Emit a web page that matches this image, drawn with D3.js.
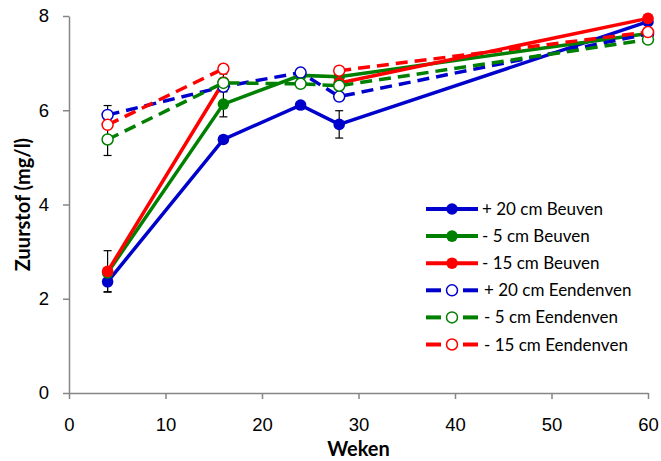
<!DOCTYPE html>
<html>
<head>
<meta charset="utf-8">
<script src="https://cdn.jsdelivr.net/npm/d3@7"></script>
<style>
    body { margin: 0; background: #fff; }
    svg { display: block; font-family: Lato, "Open Sans", sans-serif; }
    .axis path, .axis line { stroke: #868686; stroke-width: 1.5; }
    .axis text { font-size: 18.5px; fill: #000; }
    .title { font-size: 20px; font-weight: bold; }
    .legend text { font-size: 17px; }
</style>
</head>
<body>
<div id="chart"></div>
<script>

// weken (x) en zuurstof (mg/l)
var weken = [4, 16, 24, 28, 60];

var beuven20 = [2.36, 5.38, 6.11, 5.70, 7.88];
var beuven5 = [2.55, 6.13, 6.74, 6.71, 7.63];
var beuven15 = [2.58, 6.60, null, 6.58, 7.95];
var eenden20 = [5.90, 6.50, 6.80, 6.29, 7.62];
var eenden5 = [5.38, 6.58, 6.56, 6.52, 7.50];
var eenden15 = [5.69, 6.88, null, 6.84, 7.66];

// foutbalken
var errBeuven20 = [0.21, null, null, 0.29, null];
var errBeuven5 = [null, 0.27, null, null, null];
var errBeuven15 = [0.44, null, null, null, null];
var errEenden20 = [0.20, null, null, null, null];
var errEenden5 = [0.34, 0.19, null, null, null];
var errEenden15 = [null, null, null, null, null];

var seriesNames = ["+ 20 cm Beuven", "- 5 cm Beuven", "- 15 cm Beuven",
    "+ 20 cm Eendenven", "- 5 cm Eendenven", "- 15 cm Eendenven"];

var xTicks = [0, 10, 20, 30, 40, 50, 60];
var yTicks = [0, 2, 4, 6, 8];

var series = [
    {name: seriesNames[0], values: beuven20, err: errBeuven20, color: "#0000cc", open: false},
    {name: seriesNames[1], values: beuven5, err: errBeuven5, color: "#008000", open: false},
    {name: seriesNames[2], values: beuven15, err: errBeuven15, color: "#ff0000", open: false},
    {name: seriesNames[3], values: eenden20, err: errEenden20, color: "#0000cc", open: true},
    {name: seriesNames[4], values: eenden5, err: errEenden5, color: "#008000", open: true},
    {name: seriesNames[5], values: eenden15, err: errEenden15, color: "#ff0000", open: true}
];

var width = 661
    , height = 461
    , margin = {left: 69, right: 13, top: 16, bottom: 68}
    , dash = "12,7"
    ;

var svg = d3.select("#chart").append("svg")
    .attr("width", width)
    .attr("height", height);

var w = width - margin.left - margin.right
    , h = height - margin.top - margin.bottom;

var g = svg.append("g")
    .attr("transform", "translate(" + margin.left + "," + margin.top + ")");

var x = d3.scaleLinear().domain([0, 60]).range([0, w]);
var y = d3.scaleLinear().domain([0, 8]).range([h, 0]);

var xAxis = d3.axisBottom(x)
    .tickValues(xTicks)
    .tickSizeOuter(0)
    .tickSizeInner(6)
    .tickPadding(19);

var yAxis = d3.axisLeft(y)
    .tickValues(yTicks)
    .tickSizeOuter(0)
    .tickSizeInner(6)
    .tickPadding(14);

g.append("g")
    .attr("class", "axis axis--x")
    .attr("transform", "translate(0," + h + ")")
    .call(xAxis);

g.append("g")
    .attr("class", "axis axis--y")
    .call(yAxis);

svg.append("text")
    .attr("class", "title")
    .attr("text-anchor", "middle")
    .attr("x", margin.left + x(30))
    .attr("y", 456)
    .text("Weken");

svg.append("text")
    .attr("class", "title")
    .attr("text-anchor", "middle")
    .attr("transform", "translate(30," + (margin.top + h / 2) + ") rotate(-90)")
    .text("Zuurstof (mg/l)");

// foutbalken onder de lijnen
var eb = g.append("g").attr("class", "errorbars");
series.forEach(function(s) {
    s.err.forEach(function(e, i) {
        if (e == null || s.values[i] == null) return;
        var xc = x(weken[i]);
        var y0 = y(s.values[i] - e), y1 = y(s.values[i] + e);
        eb.append("line").attr("x1", xc).attr("x2", xc).attr("y1", y0).attr("y2", y1);
        eb.append("line").attr("x1", xc - 4).attr("x2", xc + 4).attr("y1", y0).attr("y2", y0);
        eb.append("line").attr("x1", xc - 4).attr("x2", xc + 4).attr("y1", y1).attr("y2", y1);
    });
});
eb.selectAll("line").attr("stroke", "#000").attr("stroke-width", 1.2);

var line = d3.line()
    .defined(function(d) { return d.v != null; })
    .x(function(d) { return x(d.x); })
    .y(function(d) { return y(d.v); });

series.forEach(function(s) {
    var pts = weken.map(function(wk, i) { return {x: wk, v: s.values[i]}; });
    var sg = g.append("g").attr("class", "series");

    sg.append("path")
        .datum(pts)
        .attr("fill", "none")
        .attr("stroke", s.color)
        .attr("stroke-width", 3.5)
        .attr("stroke-dasharray", s.open ? dash : null)
        .attr("d", line);

    sg.selectAll("circle")
        .data(pts.filter(function(d) { return d.v != null; }))
        .enter().append("circle")
        .attr("cx", function(d) { return x(d.x); })
        .attr("cy", function(d) { return y(d.v); })
        .attr("r", s.open ? 5.5 : 5.8)
        .attr("fill", s.open ? "#fff" : s.color)
        .attr("stroke", s.color)
        .attr("stroke-width", s.open ? 1.5 : 0);
});

// legenda
var legend = svg.append("g")
    .attr("class", "legend")
    .attr("transform", "translate(426,209)");

var row = legend.selectAll("g")
    .data(series)
    .enter().append("g")
    .attr("transform", function(d, i) { return "translate(0," + (i * 27.1) + ")"; });

row.each(function(s) {
    var r = d3.select(this);
    if (s.open) {
        r.append("line").attr("x1", 0).attr("x2", 15).attr("y1", 0).attr("y2", 0)
            .attr("stroke", s.color).attr("stroke-width", 4);
        r.append("line").attr("x1", 37).attr("x2", 52).attr("y1", 0).attr("y2", 0)
            .attr("stroke", s.color).attr("stroke-width", 4);
    } else {
        r.append("line").attr("x1", 0).attr("x2", 52).attr("y1", 0).attr("y2", 0)
            .attr("stroke", s.color).attr("stroke-width", 4);
    }
    r.append("circle")
        .attr("cx", 26).attr("cy", 0)
        .attr("r", s.open ? 5.5 : 5.8)
        .attr("fill", s.open ? "#fff" : s.color)
        .attr("stroke", s.color)
        .attr("stroke-width", s.open ? 1.5 : 0);
    r.append("text")
        .attr("x", s.open ? 58 : 56)
        .attr("y", 6)
        .text(s.name);
});

</script>
</body>
</html>
